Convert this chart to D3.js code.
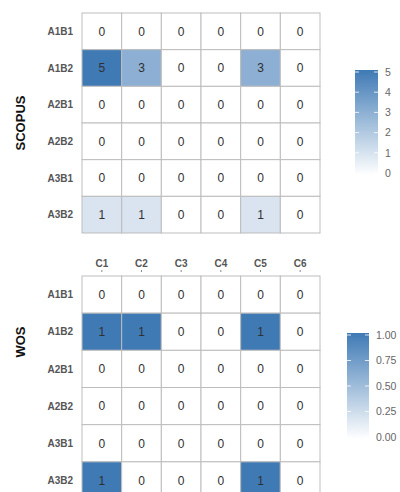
<!DOCTYPE html>
<html><head><meta charset="utf-8">
<script src="https://cdn.jsdelivr.net/npm/d3@7"></script>
<style>body{margin:0;background:#fff}svg{display:block;font-family:"Liberation Sans",Arial,sans-serif}</style>
</head><body><svg id="c" width="400" height="492"></svg>
<script>
const columns = ["C1","C2","C3","C4","C5","C6"];
const rows = ["A1B1","A1B2","A2B1","A2B2","A3B1","A3B2"];
const scopusValues = [
  [0,0,0,0,0,0],
  [5,3,0,0,3,0],
  [0,0,0,0,0,0],
  [0,0,0,0,0,0],
  [0,0,0,0,0,0],
  [1,1,0,0,1,0]
];
const wosValues = [
  [0,0,0,0,0,0],
  [1,1,0,0,1,0],
  [0,0,0,0,0,0],
  [0,0,0,0,0,0],
  [0,0,0,0,0,0],
  [1,0,0,0,1,0]
];
const scopusTicks = [0,1,2,3,4,5];
const wosTicks = [0,0.25,0.5,0.75,1];
const wosTickLabels = ["0.00","0.25","0.50","0.75","1.00"];

const svg = d3.select("#c");
const defs = svg.append("defs");
const hi = "#3f7ab5";
const grad = defs.append("linearGradient").attr("id","g").attr("x1",0).attr("x2",0).attr("y1",1).attr("y2",0);
grad.append("stop").attr("offset","0%").attr("stop-color","#ffffff");
grad.append("stop").attr("offset","100%").attr("stop-color",hi);

const x = d3.scaleBand().domain(columns).range([82,320]);

function panel(values, title, yRange, titleY, maxV, showCols) {
  const y = d3.scaleBand().domain(rows).range(yRange);
  const color = d3.scaleLinear().domain([0,maxV]).range(["#ffffff",hi]);
  const g = svg.append("g");
  const cells = [];
  values.forEach((r,i)=>r.forEach((v,j)=>cells.push({row:rows[i],col:columns[j],v})));
  g.selectAll("rect").data(cells).join("rect")
    .attr("x",d=>x(d.col)).attr("y",d=>y(d.row))
    .attr("width",x.bandwidth()).attr("height",y.bandwidth())
    .attr("fill",d=>color(d.v)).attr("stroke","#bdbdbd").attr("stroke-width",1);
  g.selectAll("text.v").data(cells).join("text").attr("class","v")
    .attr("x",d=>x(d.col)+x.bandwidth()/2).attr("y",d=>y(d.row)+y.bandwidth()/2)
    .attr("dy","0.36em").attr("text-anchor","middle")
    .attr("font-size",12).attr("fill","#303030")
    .text(d=>d.v);
  g.selectAll("text.r").data(rows).join("text").attr("class","r")
    .attr("x",73).attr("y",d=>y(d)+y.bandwidth()/2).attr("dy","0.36em")
    .attr("text-anchor","end").attr("font-size",10).attr("font-weight","bold").attr("fill","#555")
    .text(d=>d);
  svg.append("text").attr("transform",`translate(25,${titleY}) rotate(-90)`)
    .attr("text-anchor","middle").attr("font-size",13).attr("font-weight","bold").attr("fill","#111")
    .text(title);
  if (showCols) {
    const ax = svg.append("g").attr("transform",`translate(0,${yRange[0]-4})`)
      .call(d3.axisTop(x).tickSize(2).tickPadding(3));
    ax.select(".domain").remove();
    ax.selectAll("line").attr("stroke","#888");
    ax.selectAll("text").attr("font-size",10).attr("font-weight","bold").attr("fill","#555")
      .attr("font-family","'Liberation Sans',Arial,sans-serif");
  }
}

function legend(x0, w, y0, y1, domain, ticks, labels) {
  const s = d3.scaleLinear().domain(domain).range([y1,y0]);
  svg.append("rect").attr("x",x0).attr("y",y0-2).attr("width",w).attr("height",y1-y0+4).attr("fill","url(#g)");
  const g = svg.append("g");
  ticks.forEach((t,i)=>{
    g.append("line").attr("x1",x0).attr("x2",x0+4).attr("y1",s(t)).attr("y2",s(t)).attr("stroke","#fff").attr("stroke-opacity",0.8);
    g.append("line").attr("x1",x0+w-4).attr("x2",x0+w).attr("y1",s(t)).attr("y2",s(t)).attr("stroke","#fff").attr("stroke-opacity",0.8);
    g.append("text").attr("x",x0+w+7).attr("y",s(t)).attr("dy","0.36em")
      .attr("font-size",10.5).attr("fill","#666").text(labels[i]);
  });
}

panel(scopusValues,"SCOPUS",[13,233],123,5,false);
panel(wosValues,"WOS",[276,499],342,1,true);
legend(355,23,72,173,[0,5],scopusTicks,scopusTicks.map(String));
legend(347,22,335,437,[0,1],wosTicks,wosTickLabels);
</script></body></html>
